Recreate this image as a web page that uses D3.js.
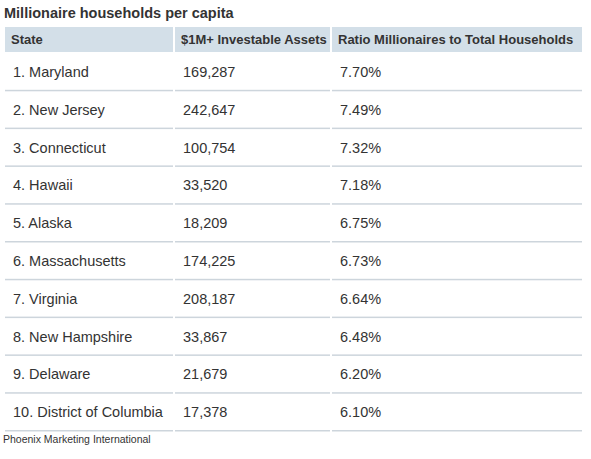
<!DOCTYPE html><html><head><meta charset="utf-8">
<script src="https://cdn.jsdelivr.net/npm/d3@7"></script>
<style>body{margin:0;background:#fff}</style></head><body>
<script>
const title="Millionaire households per capita";
const headers=["State","$1M+ Investable Assets","Ratio Millionaires to Total Households"];
const states=["1. Maryland","2. New Jersey","3. Connecticut","4. Hawaii","5. Alaska","6. Massachusetts","7. Virginia","8. New Hampshire","9. Delaware","10. District of Columbia"];
const assets=["169,287","242,647","100,754","33,520","18,209","174,225","208,187","33,867","21,679","17,378"];
const ratios=["7.70%","7.49%","7.32%","7.18%","6.75%","6.73%","6.64%","6.48%","6.20%","6.10%"];
const source="Phoenix Marketing International";
const W=591,H=459;
const svg=d3.select("body").append("svg").attr("width",W).attr("height",H).style("font-family","Liberation Sans, Arial, sans-serif");
const cols=[[5,173],[175,330],[332,582]];
svg.append("text").attr("x",4).attr("y",18).attr("font-size",14.5).attr("font-weight","bold").attr("fill","#333").text(title);
cols.forEach((c,i)=>{
 svg.append("rect").attr("x",c[0]).attr("y",27).attr("width",c[1]-c[0]).attr("height",25).attr("fill","#d3dfe8");
 svg.append("text").attr("x",c[0]+6).attr("y",44).attr("font-size",13).attr("font-weight","bold").attr("fill","#333").text(headers[i]);
});
const y=d3.scaleBand().domain(d3.range(states.length)).range([53,431]);
states.forEach((s,i)=>{
 const vals=[s,assets[i],ratios[i]];
 cols.forEach((c,j)=>{
  svg.append("text").attr("x",c[0]+8).attr("y",y(i)+y.bandwidth()/2+5).attr("font-size",14.5).attr("fill","#333").text(vals[j]);
  svg.append("rect").attr("x",c[0]).attr("y",y(i)+y.bandwidth()-1).attr("width",c[1]-c[0]).attr("height",1.5).attr("fill","#cdd5dc");
 });
});
svg.append("text").attr("x",3).attr("y",443).attr("font-size",10.5).attr("fill","#333").text(source);
</script></body></html>
